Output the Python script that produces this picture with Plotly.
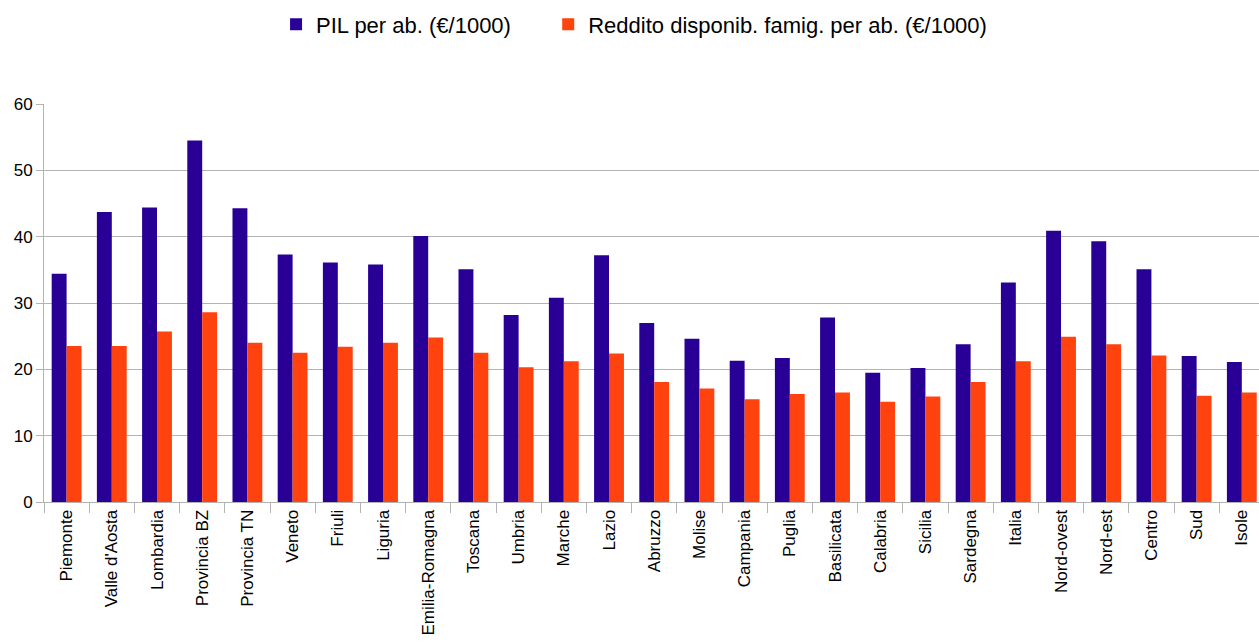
import plotly.graph_objects as go

regioni = ["Piemonte", "Valle d'Aosta", "Lombardia", "Provincia BZ", "Provincia TN",
           "Veneto", "Friuli", "Liguria", "Emilia-Romagna", "Toscana", "Umbria",
           "Marche", "Lazio", "Abruzzo", "Molise", "Campania", "Puglia", "Basilicata",
           "Calabria", "Sicilia", "Sardegna", "Italia", "Nord-ovest", "Nord-est",
           "Centro", "Sud", "Isole"]

pil_per_ab = [34.4, 43.7, 44.4, 54.5, 44.3, 37.3, 36.1, 35.8, 40.1, 35.1, 28.2,
              30.8, 37.2, 27.0, 24.6, 21.3, 21.7, 27.8, 19.5, 20.2, 23.8, 33.1,
              40.9, 39.3, 35.1, 22.0, 21.1]

reddito_per_ab = [23.5, 23.5, 25.7, 28.6, 24.0, 22.5, 23.4, 24.0, 24.8, 22.5, 20.3,
                  21.2, 22.4, 18.1, 17.1, 15.5, 16.3, 16.5, 15.1, 15.9, 18.1, 21.2,
                  24.9, 23.8, 22.1, 16.0, 16.5]

y_ticks = [0, 10, 20, 30, 40, 50, 60]

FONT = "Liberation Sans, Arial, sans-serif"

fig = go.Figure()
fig.add_trace(go.Bar(x=regioni, y=pil_per_ab, name="PIL per ab. (€/1000)",
                     marker=dict(color="#280096", line=dict(width=0)),
                     legend="legend"))
fig.add_trace(go.Bar(x=regioni, y=reddito_per_ab,
                     name="Reddito disponib. famig. per ab. (€/1000)",
                     marker=dict(color="#ff420e", line=dict(width=0)),
                     legend="legend2"))

legend_common = dict(orientation="h", y=1.2, yanchor="middle", xanchor="left",
                     font=dict(size=22), bgcolor="rgba(0,0,0,0)")

fig.update_layout(
    width=1259, height=644,
    margin=dict(l=44, r=0, t=104, b=142, autoexpand=False),
    paper_bgcolor="white", plot_bgcolor="white",
    barmode="group", bargap=0.34, bargroupgap=0,
    font=dict(family=FONT, size=17, color="#000000"),
    showlegend=True,
    legend=dict(x=0.191, **legend_common),
    legend2=dict(x=0.415, **legend_common),
)

fig.update_xaxes(
    type="category", range=[-0.5, 26.38],
    tickson="boundaries", ticks="outside", ticklen=10, tickcolor="#b3b3b3",
    tickangle=-90, tickfont=dict(size=17),
    showline=True, linecolor="#b3b3b3", linewidth=1,
    showgrid=False, automargin=False,
)
fig.update_yaxes(
    range=[0, 60], tickvals=y_ticks,
    ticks="outside", ticklen=7, tickcolor="#b3b3b3",
    showline=True, linecolor="#b3b3b3", linewidth=1,
    showgrid=True, gridcolor="#b3b3b3", gridwidth=1,
    zeroline=False, tickfont=dict(size=17), automargin=False,
)

fig.write_html("out.html")
